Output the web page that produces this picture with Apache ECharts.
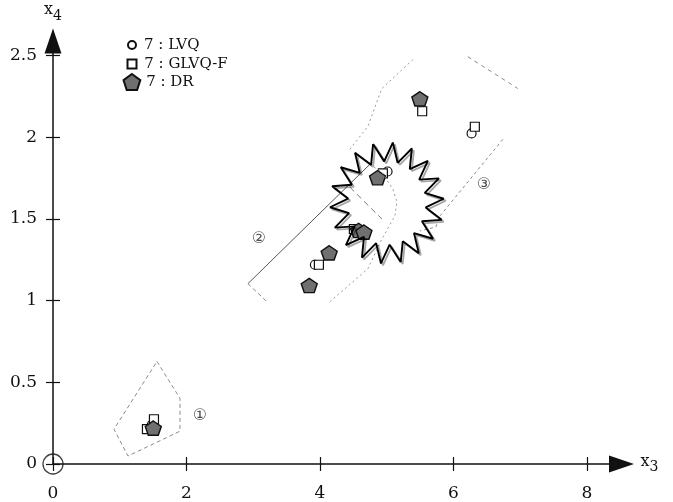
<!DOCTYPE html>
<html><head><meta charset="utf-8">
<script src="https://cdn.jsdelivr.net/npm/echarts@6/dist/echarts.min.js"></script>
<style>html,body{margin:0;padding:0;background:#fff}#c{width:673px;height:502px}</style>
</head><body><div id="c"></div>
<script>
// ---- tick labels ----
const xTicks = [0, 2, 4, 6, 8];
const yTicks = [0, 0.5, 1, 1.5, 2, 2.5];

// ---- prototypes (x3, x4) ----
const lvqPoints  = [[1.48,0.24],[3.925,1.22],[4.135,1.293],[4.61,1.43],[5.014,1.791],[5.50,2.23],[6.273,2.024]];
const glvqPoints = [[1.408,0.213],[1.513,0.274],[3.985,1.22],[4.509,1.439],[4.944,1.78],[5.533,2.16],[6.322,2.065]];
const drPoints   = [[1.503,0.22],[3.84,1.093],[4.139,1.293],[4.58,1.43],[4.66,1.42],[4.864,1.753],[5.498,2.236]];

// ---- region boundaries ----
const region1 = [[1.558,0.628],[1.903,0.402],[1.903,0.201],[1.124,0.049],[0.914,0.213],[1.558,0.628]];
const region2Solid = [[2.921,1.104],[4.749,1.835]];
const region2Dashed = [[2.921,1.104],[3.206,0.994]];
const region2Dotted = [[4.15,0.994],[4.719,1.195],[4.929,1.378],[5.124,1.518],[5.154,1.604],[5.094,1.683],[4.929,1.787],[4.749,1.835]];
const region2Inner = [[4.449,1.695],[4.929,1.5]];
const region3Left = [[4.449,1.927],[4.719,2.067],[4.929,2.299],[5.393,2.476]];
const region3Top = [[6.217,2.494],[6.966,2.299]];
const region3Right = [[6.742,1.988],[5.798,1.518],[5.738,1.451],[5.498,1.427]];

// ---- star outline (tip, valley, tip, ...) ----
const starOutline = [
 [4.797,1.959],[4.963,1.853],[5.093,1.968],[5.165,1.844],[5.378,1.932],[5.347,1.805],
 [5.618,1.856],[5.488,1.741],[5.784,1.749],[5.571,1.660],[5.856,1.624],[5.585,1.571],
 [5.825,1.495],[5.529,1.486],[5.695,1.379],[5.410,1.414],[5.482,1.290],[5.242,1.364],
 [5.211,1.237],[5.045,1.343],[4.915,1.228],[4.843,1.352],[4.630,1.264],[4.661,1.391],
 [4.390,1.340],[4.520,1.455],[4.224,1.447],[4.437,1.536],[4.152,1.572],[4.423,1.625],
 [4.183,1.701],[4.479,1.710],[4.313,1.817],[4.598,1.782],[4.526,1.906],[4.767,1.832],
 [4.797,1.959]
];

// ---- region labels ----
const regionLabelNames = ['①', '②', '③'];
const regionLabelPos = [[2.202,0.293],[3.086,1.378],[6.457,1.707]];

const seriesNames = ['7 : LVQ', '7 : GLVQ-F', '7 : DR'];

const SERIF = 'DejaVu Serif';
const squarePath = 'path://M0,0L10,0L10,10L0,10Z';
const pentPath = 'path://M10,0L19.51,6.91L15.88,18.09L4.12,18.09L0.49,6.91Z';

function poly(pts, color, width, type) {
  return { type: 'line', data: pts, symbol: 'none', silent: true, animation: false,
    lineStyle: { color: color, width: width, type: type } };
}

const chart = echarts.init(document.getElementById('c'), null, { renderer: 'canvas' });
const axisColor = '#111';
const tickStyle = { color: axisColor, width: 1.2 };
const legendText = { fontFamily: SERIF, fontSize: 15, color: '#111', lineHeight: 16 };
const nameRich = {
  a: { fontFamily: SERIF, fontSize: 16, color: '#111', verticalAlign: 'top', lineHeight: 21 },
  b: { fontFamily: SERIF, fontSize: 14, color: '#111', verticalAlign: 'bottom', lineHeight: 21 }
};

chart.setOption({
  animation: false,
  grid: { left: 53, right: 51.5, top: 41, bottom: 36, containLabel: false },
  legend: [
    { data: [{ name: seriesNames[0], icon: 'circle' }], left: 127, top: 37, padding: 0,
      itemWidth: 14, itemHeight: 8, selectedMode: false, textStyle: legendText },
    { data: [{ name: seriesNames[1], icon: squarePath }], left: 126.5, top: 56, padding: 0,
      itemWidth: 14.5, itemHeight: 9, selectedMode: false, textStyle: legendText },
    { data: [{ name: seriesNames[2], icon: pentPath }], left: 122.5, top: 73, padding: 0,
      itemWidth: 18.5, itemHeight: 16, selectedMode: false, textStyle: legendText }
  ],
  xAxis: [
    { type: 'value', min: 0, max: 8.52, position: 'bottom',
      name: '{a|x}{b|3}', nameLocation: 'end', nameGap: 19,
      nameTextStyle: { rich: nameRich },
      axisLine: { show: true, onZero: false, symbol: ['none', 'triangle'], symbolSize: [17, 25],
        lineStyle: { color: axisColor, width: 1.5 } },
      axisTick: { show: true, customValues: xTicks, length: 7, lineStyle: tickStyle },
      axisLabel: { customValues: xTicks, margin: 21, fontFamily: SERIF, fontSize: 17, color: '#111' },
      splitLine: { show: false } },
    { type: 'value', min: 0, max: 8.52, position: 'bottom',
      axisLine: { show: false, onZero: false },
      axisTick: { show: true, inside: true, customValues: xTicks, length: 7, lineStyle: tickStyle },
      axisLabel: { show: false }, splitLine: { show: false } }
  ],
  yAxis: [
    { type: 'value', min: 0, max: 2.59, position: 'left',
      name: '{a|x}{b|4}', nameLocation: 'end', nameGap: 18,
      nameTextStyle: { rich: nameRich },
      axisLine: { show: true, onZero: false, symbol: ['none', 'triangle'], symbolSize: [17, 25],
        lineStyle: { color: axisColor, width: 1.5 } },
      axisTick: { show: true, customValues: yTicks, length: 7, lineStyle: tickStyle },
      axisLabel: { customValues: yTicks, margin: 16, fontFamily: SERIF, fontSize: 17, color: '#111' },
      splitLine: { show: false } },
    { type: 'value', min: 0, max: 2.59, position: 'left',
      axisLine: { show: false, onZero: false },
      axisTick: { show: true, inside: true, customValues: yTicks, length: 7, lineStyle: tickStyle },
      axisLabel: { show: false }, splitLine: { show: false } }
  ],
  series: [
    poly(region1, '#8a8a8a', 1, [4, 3]),
    poly(region2Solid, '#555', 1, 'solid'),
    poly(region2Dashed, '#8a8a8a', 1, [4, 3]),
    poly(region2Dotted, '#9a9a9a', 1, [2, 3]),
    poly(region2Inner, '#777', 1, [6, 4]),
    poly(region3Left, '#9a9a9a', 1, [2, 3]),
    poly(region3Top, '#8a8a8a', 1, [4, 4]),
    poly(region3Right, '#8a8a8a', 1, [3, 3]),
    { type: 'line', data: starOutline, symbol: 'none', silent: true,
      lineStyle: { color: '#000', width: 1.9, shadowColor: 'rgba(0,0,0,0.35)', shadowOffsetX: 2, shadowOffsetY: 2, shadowBlur: 0 } },
    { type: 'scatter', data: [[0, 0]], symbol: 'circle', symbolSize: 20, silent: true,
      itemStyle: { color: 'rgba(0,0,0,0)', borderColor: '#111', borderWidth: 1.3 } },
    { name: seriesNames[0], type: 'scatter', data: lvqPoints, symbol: 'circle', symbolSize: 9,
      itemStyle: { color: '#fff', borderColor: '#111', borderWidth: 1.2, opacity: 1 } },
    { name: seriesNames[1], type: 'scatter', data: glvqPoints, symbol: squarePath, symbolSize: 9, symbolKeepAspect: true,
      itemStyle: { color: '#fff', borderColor: '#111', borderWidth: 1.2, opacity: 1 } },
    { name: seriesNames[2], type: 'scatter', data: drPoints, symbol: pentPath, symbolSize: [16, 15], symbolKeepAspect: true,
      itemStyle: { color: '#707070', borderColor: '#111', borderWidth: 1.4, opacity: 1 } },
    { type: 'scatter', silent: true, symbolSize: 0,
      data: regionLabelNames.map((n, i) => ({ name: n, value: regionLabelPos[i] })),
      label: { show: true, position: 'inside', formatter: '{b}', fontFamily: 'DejaVu Sans, Noto Sans CJK JP', fontSize: 16, color: '#222' } }
  ]
});
</script></body></html>
